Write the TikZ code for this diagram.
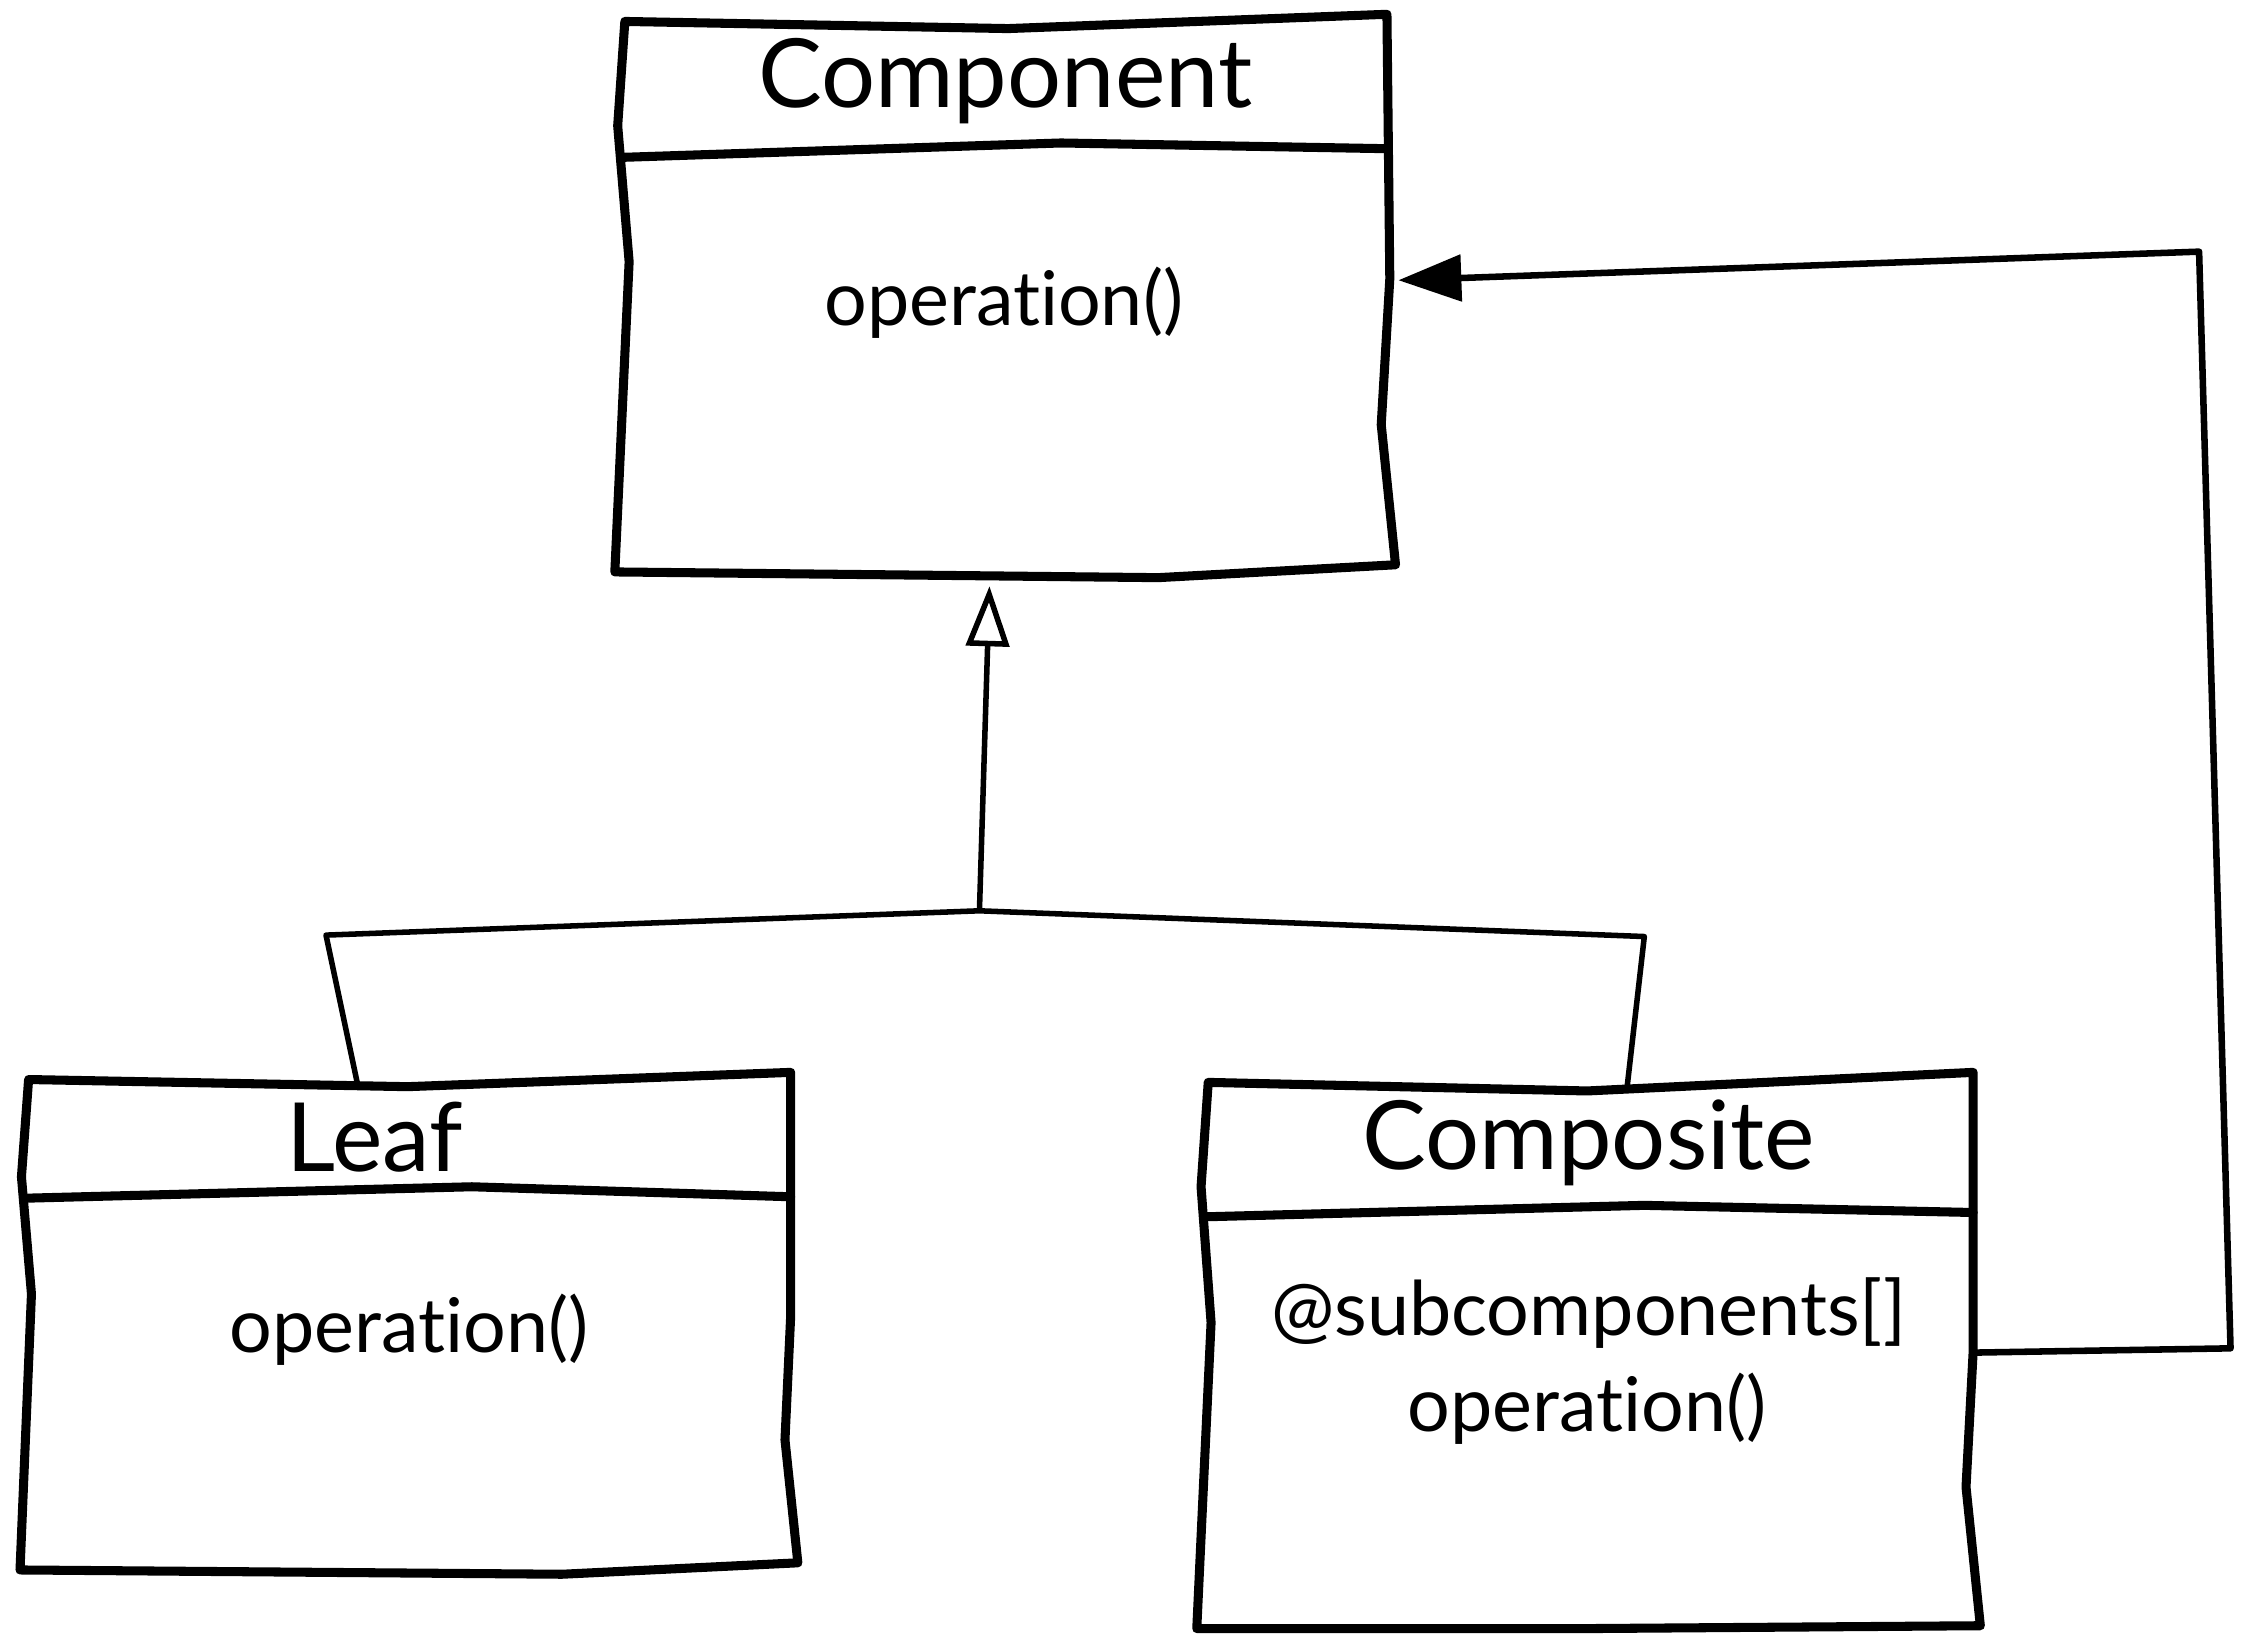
\documentclass[tikz,border=0pt]{standalone}
\usepackage{fontspec}
\setmainfont[Ligatures={NoCommon}]{Lato}
\usetikzlibrary{arrows.meta}
\begin{document}
\begin{tikzpicture}[x=0.01cm,y=-0.01cm,
  outline/.style={line width=1.8pt, line join=round, line cap=round},
  divider/.style={line width=1.8pt, line cap=round},
  link/.style={line width=1.3pt, line join=round},
  inherit/.style={line width=1.1pt, line join=round},
  title/.style={font=\fontsize{19}{22}\selectfont, inner sep=0pt},
  member/.style={font=\fontsize{15}{20}\selectfont, inner sep=0pt, align=center}]
\useasboundingbox (0,0) rectangle (1568,1143);

% ---- Component class ----
\draw[outline] (437,15) -- (705,20) -- (970,10) -- (972,195) -- (966,297) -- (976,395)
  -- (810,404) -- (430,400) -- (440,183) -- (432,88) -- cycle;
\draw[divider] (437,110) -- (742,100) -- (970,104);
\node[title]  (componentTitle) at (703,57) {Component};
\node[member] (componentOps)   at (702,212) {operation()};

% ---- Leaf class ----
\draw[outline] (20,755) -- (285,760) -- (553,750) -- (553,920) -- (549,1007) -- (558,1093)
  -- (393,1101) -- (14,1098) -- (22,905) -- (15,823) -- cycle;
\draw[divider] (18,838) -- (330,830) -- (553,837);
\node[title]  (leafTitle) at (262,795) {Leaf};
\node[member] (leafOps)   at (286,930) {operation()};

% ---- Composite class ----
\draw[outline] (845,757) -- (1110,763) -- (1380,750) -- (1380,945) -- (1375,1040) -- (1385,1137)
  -- (1110,1139) -- (837,1139) -- (847,925) -- (840,830) -- cycle;
\draw[divider] (843,851) -- (1150,843) -- (1380,848);
\node[title]  (compositeTitle) at (1111,799) {Composite};
\node[member] (compositeAttr)  at (1111,918) {@subcomponents[]};
\node[member] (compositeOps)   at (1110,985) {operation()};

% ---- attachment points ----
\coordinate (componentBottom) at (692,410);
\coordinate (componentRight)  at (978,196);
\coordinate (hub)             at (685,637);
\coordinate (leafTop)         at (250,758);
\coordinate (compositeTop)    at (1138,760);
\coordinate (compositeRight)  at (1380,946);

% ---- generalisation ----
\draw[inherit] (leafTop) -- (228,654) -- (hub) -- (1150,655) -- (compositeTop);
\draw[inherit, -{Triangle[open, length=0.42cm, width=0.3cm, line width=1.1pt]}] (hub) -- (componentBottom);

% ---- aggregation back to Component ----
\draw[link, -{Triangle[length=0.44cm, width=0.32cm]}]
  (compositeRight) -- (1560,943) -- (1538,176) -- (componentRight);
\end{tikzpicture}
\end{document}
